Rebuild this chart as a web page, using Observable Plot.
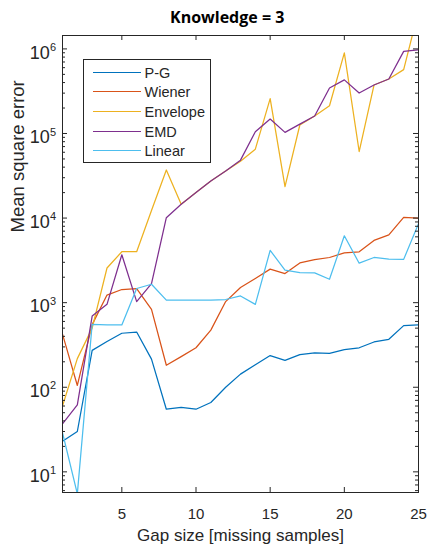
<!DOCTYPE html>
<html>
<head>
<meta charset="utf-8">
<script src="https://cdn.jsdelivr.net/npm/d3@7"></script>
<script src="https://cdn.jsdelivr.net/npm/@observablehq/plot@0.6"></script>
<style>
  body { margin: 0; background: #fff; }
  #wrap { position: relative; width: 431px; height: 550px; font-family: "Liberation Sans", Arial, sans-serif; }
  #legend { position: absolute; left: 82.5px; top: 59px; width: 128px; height: 104px; box-sizing: border-box;
            border: 1px solid #262626; background: #fff; }
  .sw { position: absolute; left: 9px; width: 48px; height: 0; }
  .lab { position: absolute; left: 61px; font-size: 14.5px; line-height: 16px; color: #262626; white-space: nowrap; }
</style>
</head>
<body>
<div id="wrap"></div>
<script>
// ---- data ----
const gaps = [1,2,3,4,5,6,7,8,9,10,11,12,13,14,15,16,17,18,19,20,21,22,23,24,25];
const pg       = [23, 30, 273, 347, 435, 450, 215, 55, 58, 55, 66, 100, 143, 185, 237, 208, 243, 255, 251, 278, 293, 343, 369, 535, 545];
const wiener   = [425, 105, 550, 1230, 1430, 1465, 835, 182, 230, 293, 474, 1030, 1510, 1930, 2490, 2210, 2950, 3220, 3420, 3880, 3990, 5440, 6330, 10200, 10000];
const envelope = [60, 218, 500, 2570, 4000, 4000, 12300, 37000, 14600, 20000, 27400, 36100, 47000, 65300, 258000, 23500, 126000, 161000, 213000, 897000, 61200, 374000, 441000, 569000, 2800000];
const emd      = [37, 62, 695, 955, 3680, 1030, 1680, 10100, 14600, 20000, 27400, 36100, 48400, 105000, 148000, 103000, 129000, 161000, 345000, 430000, 301000, 374000, 441000, 935000, 975000];
const linear   = [29, 5.5, 555, 545, 545, 1470, 1650, 1070, 1075, 1075, 1075, 1090, 1200, 955, 4150, 2430, 2270, 2250, 1890, 6170, 2930, 3420, 3270, 3250, 8570];

const methods = ["P-G", "Wiener", "Envelope", "EMD", "Linear"];
const colors  = ["#0072BD", "#D95319", "#EDB120", "#7E2F8E", "#4DBEEE"];
const seriesValues = [pg, wiener, envelope, emd, linear];

const xTicks = [5, 10, 15, 20, 25];
const yMajor = [10, 100, 1000, 10000, 100000, 1000000];
const yExp   = ["1", "2", "3", "4", "5", "6"];
const yDomain = [5.7, 1.44e6];
const yMinor = [1, ...yMajor].flatMap(p => [2,3,4,5,6,7,8,9].map(k => k * p))
  .filter(v => v > yDomain[0] && v < yDomain[1]);

const data = methods.flatMap((m, j) => seriesValues[j].map((v, i) => ({gap: gaps[i], mse: v, method: m})));

// ---- layout ----
const W = 431, H = 550, mL = 62, mR = 13, mT = 35, mB = 58;
const fw = W - mL - mR, fh = H - mT - mB;
const ink = "#262626";

const chart = Plot.plot({
  width: W, height: H,
  marginLeft: mL, marginRight: mR, marginTop: mT, marginBottom: mB,
  style: {background: "white", fontFamily: "Liberation Sans, Arial, sans-serif", overflow: "visible"},
  x: {domain: [1, 25], axis: null},
  y: {type: "log", domain: yDomain, axis: null},
  color: {domain: methods, range: colors},
  marks: [
    Plot.line(data, {x: "gap", y: "mse", stroke: "method", z: "method", strokeWidth: 1.25, clip: true}),
    Plot.frame({stroke: ink, strokeWidth: 1}),
    // inward ticks
    Plot.ruleX(xTicks, {x: d => d, insetTop: fh - 5, stroke: ink}),
    Plot.ruleX(xTicks, {x: d => d, insetBottom: fh - 5, stroke: ink}),
    Plot.ruleY(yMajor, {y: d => d, insetRight: fw - 5, stroke: ink}),
    Plot.ruleY(yMajor, {y: d => d, insetLeft: fw - 5, stroke: ink}),
    Plot.ruleY(yMinor, {y: d => d, insetRight: fw - 3, stroke: ink}),
    Plot.ruleY(yMinor, {y: d => d, insetLeft: fw - 3, stroke: ink}),
    // tick labels
    Plot.text(xTicks, {x: d => d, frameAnchor: "bottom", dy: 21.5, lineAnchor: "middle",
      text: d => String(d), fontSize: 15, fill: ink}),
    Plot.text(yMajor, {y: d => d, frameAnchor: "left", dx: -12.7, dy: 4, lineAnchor: "middle", textAnchor: "end",
      text: () => "10", fontSize: 18, fill: ink}),
    Plot.text(yMajor, {y: d => d, frameAnchor: "left", dx: -12.4, dy: -1.5, lineAnchor: "middle", textAnchor: "start",
      text: (d, i) => yExp[i], fontSize: 11, fill: ink}),
    // axis labels and title
    Plot.text(["Gap size [missing samples]"], {frameAnchor: "bottom", dy: 48, lineAnchor: "bottom",
      text: d => d, fontSize: 17, fill: ink}),
    Plot.text(["Mean square error"], {frameAnchor: "left", dx: -38.7, dy: -31.6, rotate: -90, lineAnchor: "bottom",
      text: d => d, fontSize: 18.5, fill: ink}),
    Plot.text(["Knowledge = 3"], {frameAnchor: "top", dx: -13.3, dy: -13, lineAnchor: "bottom",
      text: d => d, fontSize: 16, fontWeight: "bold", fill: "#000",
      fontFamily: "Open Sans, Liberation Sans, sans-serif"})
  ]
});

const wrap = document.getElementById("wrap");
wrap.appendChild(chart);

// legend box (inside the axes, upper left)
const legend = document.createElement("div");
legend.id = "legend";
methods.forEach((m, i) => {
  const c = 13 + i * 19.7;
  const sw = document.createElement("div");
  sw.className = "sw";
  sw.style.top = (c - 1.5) + "px";
  sw.style.borderTop = "1.5px solid " + colors[i];
  const lab = document.createElement("div");
  lab.className = "lab";
  lab.style.top = (c - 8.5) + "px";
  lab.textContent = m;
  legend.appendChild(sw);
  legend.appendChild(lab);
});
wrap.appendChild(legend);
</script>
</body>
</html>
